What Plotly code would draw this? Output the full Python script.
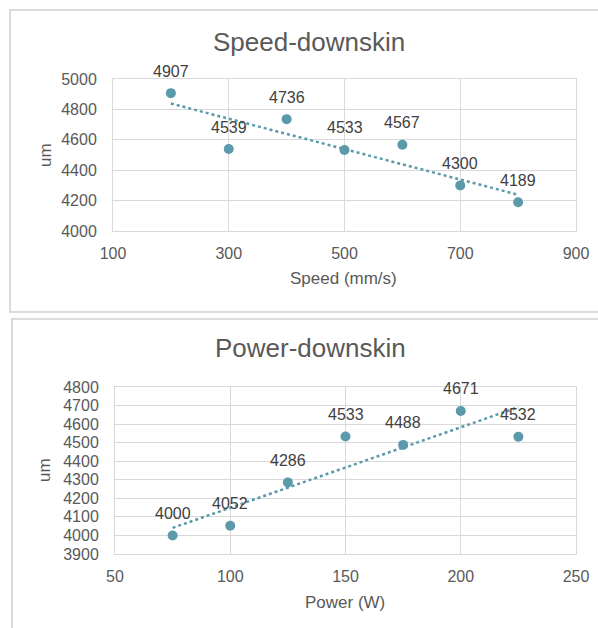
import numpy as np
import plotly.graph_objects as go

W, H = 598, 628

# Speed series
speed = [200, 300, 400, 500, 600, 700, 800]
speed_um = [4907, 4539, 4736, 4533, 4567, 4300, 4189]

# Power series
power = [75, 100, 125, 150, 175, 200, 225]
power_um = [4000, 4052, 4286, 4533, 4488, 4671, 4532]

speed_ticks = [100, 300, 500, 700, 900]
speed_yticks = [4000, 4200, 4400, 4600, 4800, 5000]
power_ticks = [50, 100, 150, 200, 250]
power_yticks = list(range(3900, 4801, 100))

MARK = "#5b9aaa"
TXT = "#595959"
LBL = "#404040"
GRID = "#d9d9d9"
FONT = "Liberation Sans, Arial, sans-serif"


def px_x(p):
    return p / W


def px_y(p):
    return 1 - p / H


def trend(x, y):
    k, b = np.polyfit(x, y, 1)
    xs = np.array([min(x), max(x)])
    return xs, k * xs + b


fig = go.Figure()

for i, (x, y) in enumerate([(speed, speed_um), (power, power_um)]):
    xa = "x" if i == 0 else "x2"
    ya = "y" if i == 0 else "y2"
    tx, ty = trend(x, y)
    fig.add_trace(go.Scatter(x=tx, y=ty, mode="lines", xaxis=xa, yaxis=ya,
                             line=dict(color=MARK, width=2.5, dash="dot"),
                             hoverinfo="skip", showlegend=False))
    fig.add_trace(go.Scatter(x=x, y=y, mode="markers", xaxis=xa, yaxis=ya,
                             marker=dict(color=MARK, size=10),
                             showlegend=False))
    for xv, yv in zip(x, y):
        fig.add_annotation(x=xv, y=yv, xref=xa, yref=ya, text=str(yv),
                           showarrow=False, yshift=22,
                           font=dict(size=16, color=LBL, family=FONT))

axis_common = dict(showgrid=True, gridcolor=GRID, gridwidth=1,
                   showline=True, linecolor=GRID, linewidth=1, mirror=True,
                   zeroline=False, ticks="", automargin=False,
                   tickfont=dict(size=16, color=TXT, family=FONT))

fig.update_layout(
    width=W, height=H,
    margin=dict(l=0, r=0, t=0, b=0, pad=0),
    paper_bgcolor="white", plot_bgcolor="white",
    xaxis=dict(domain=[px_x(113), px_x(576)], range=[100, 900],
               tickvals=speed_ticks, anchor="y", ticklabelstandoff=8,
               **axis_common),
    yaxis=dict(domain=[px_y(231), px_y(79)], range=[4000, 5000],
               tickvals=speed_yticks, anchor="x", ticklabelstandoff=12,
               **axis_common),
    xaxis2=dict(domain=[px_x(115), px_x(576)], range=[50, 250],
                tickvals=power_ticks, anchor="y2", ticklabelstandoff=8,
                **axis_common),
    yaxis2=dict(domain=[px_y(554), px_y(387)], range=[3900, 4800],
                tickvals=power_yticks, anchor="x2", ticklabelstandoff=12,
                **axis_common),
)

# Panel frames
fig.add_shape(type="rect", xref="paper", yref="paper",
              x0=px_x(10), x1=px_x(600), y0=px_y(312), y1=px_y(10),
              line=dict(color="#d0d0d0", width=1.5))
fig.add_shape(type="rect", xref="paper", yref="paper",
              x0=px_x(12), x1=px_x(600), y0=px_y(640), y1=px_y(319),
              line=dict(color="#d0d0d0", width=1.5))

texts = [
    ("Speed-downskin", 309, 42, 26, 0),
    ("Speed (mm/s)", 344, 278, 17, 0),
    ("um", 45, 155, 17, -90),
    ("Power-downskin", 310, 348, 26, 0),
    ("Power (W)", 345, 602, 17, 0),
    ("um", 45, 470, 17, -90),
]
for t, xp, yp, sz, ang in texts:
    fig.add_annotation(x=px_x(xp), y=px_y(yp), xref="paper", yref="paper",
                       text=t, showarrow=False, textangle=ang,
                       xanchor="center", yanchor="middle",
                       font=dict(size=sz, color=TXT, family=FONT))

fig.write_html("out.html")
